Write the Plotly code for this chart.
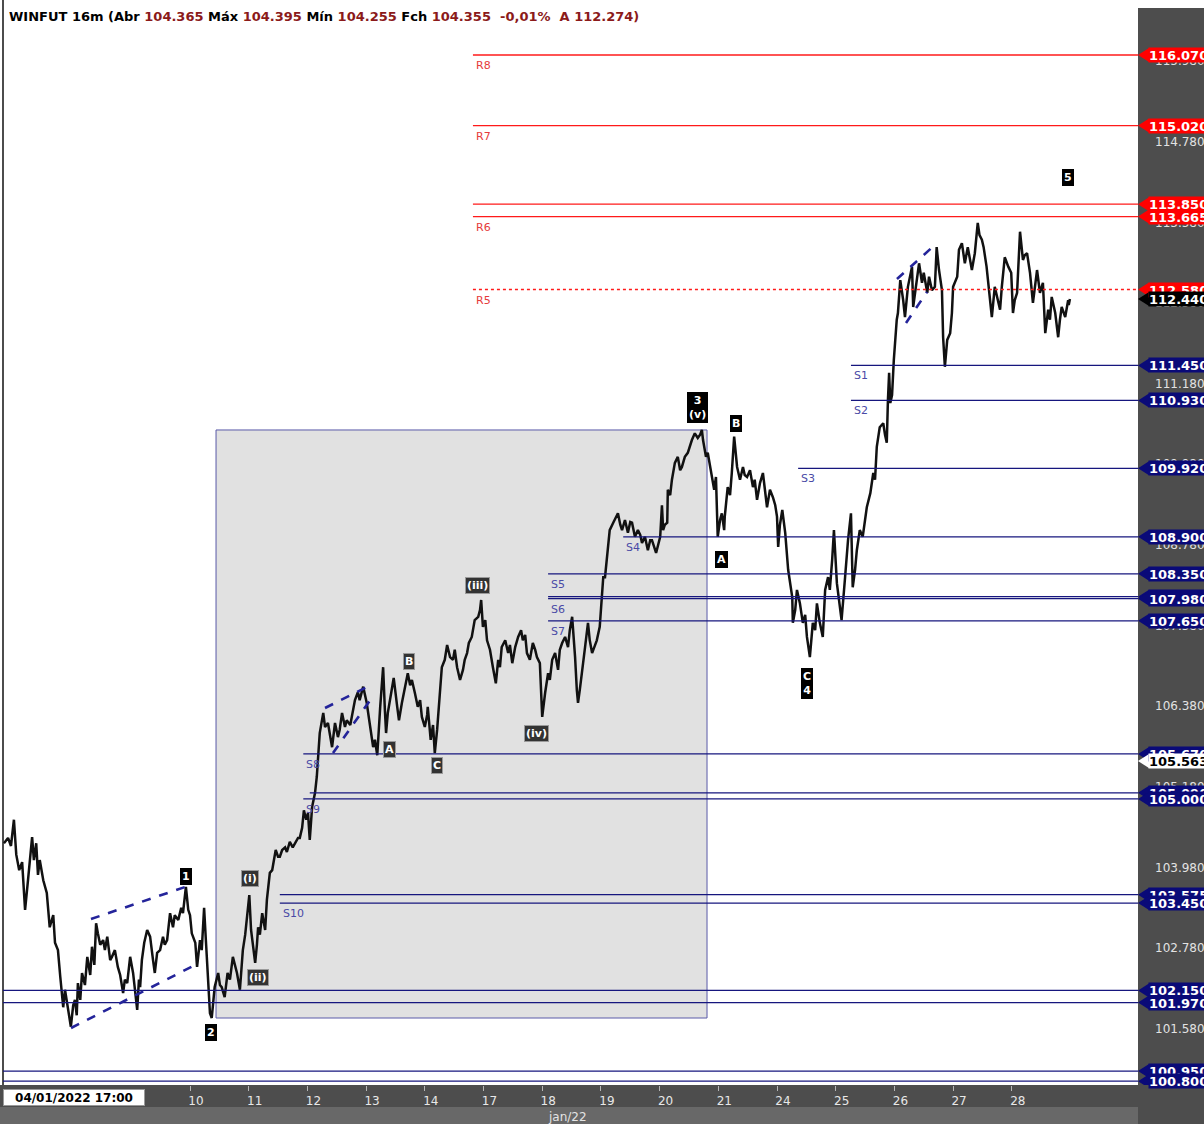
import plotly.graph_objects as go

# ---------------- data ----------------
# price path: trading-day position (0 = 05/01, 3 = 10/01 ...) and price
bar_day = [
    -0.17, -0.10, -0.05, 0.00, 0.04, 0.09, 0.14, 0.19, 0.24, 0.31,
    0.34, 0.38, 0.41, 0.44, 0.50, 0.56, 0.61, 0.67, 0.70, 0.75,
    0.79, 0.84, 0.87, 0.90, 0.94, 0.97, 1.01, 1.04, 1.07, 1.09,
    1.13, 1.16, 1.21, 1.25, 1.30, 1.33, 1.37, 1.40, 1.43, 1.47,
    1.52, 1.55, 1.59, 1.64, 1.67, 1.72, 1.77, 1.81, 1.86, 1.89,
    1.93, 1.98, 2.03, 2.06, 2.10, 2.13, 2.15, 2.18, 2.22, 2.27,
    2.32, 2.37, 2.40, 2.44, 2.49, 2.54, 2.57, 2.61, 2.66, 2.71,
    2.74, 2.80, 2.85, 2.88, 2.93, 2.97, 3.00, 3.03, 3.09, 3.12,
    3.17, 3.20, 3.24, 3.27, 3.31, 3.34, 3.37, 3.41, 3.42, 3.48,
    3.51, 3.54, 3.59, 3.64, 3.68, 3.73, 3.77, 3.80, 3.85, 3.90,
    3.94, 3.97, 4.01, 4.04, 4.07, 4.11, 4.14, 4.16, 4.19, 4.23,
    4.28, 4.31, 4.36, 4.40, 4.43, 4.46, 4.50, 4.53, 4.57, 4.62,
    4.65, 4.70, 4.75, 4.79, 4.84, 4.87, 4.91, 4.94, 4.98, 5.01,
    5.04, 5.08, 5.13, 5.16, 5.18, 5.21, 5.27, 5.30, 5.35, 5.38,
    5.42, 5.47, 5.52, 5.55, 5.59, 5.64, 5.67, 5.73, 5.76, 5.81,
    5.86, 5.89, 5.95, 5.98, 6.01, 6.07, 6.12, 6.15, 6.19, 6.24,
    6.29, 6.32, 6.34, 6.37, 6.41, 6.44, 6.47, 6.53, 6.56, 6.61,
    6.66, 6.71, 6.75, 6.78, 6.83, 6.88, 6.92, 6.95, 7.00, 7.04,
    7.05, 7.10, 7.14, 7.17, 7.21, 7.26, 7.29, 7.34, 7.38, 7.43,
    7.48, 7.51, 7.55, 7.60, 7.65, 7.68, 7.72, 7.75, 7.80, 7.85,
    7.91, 7.94, 7.96, 7.99, 8.03, 8.06, 8.11, 8.16, 8.21, 8.25,
    8.28, 8.31, 8.37, 8.42, 8.45, 8.49, 8.54, 8.59, 8.64, 8.67,
    8.71, 8.74, 8.79, 8.84, 8.88, 8.91, 8.96, 9.00, 9.03, 9.05,
    9.10, 9.13, 9.17, 9.22, 9.27, 9.30, 9.34, 9.39, 9.44, 9.47,
    9.51, 9.54, 9.56, 9.59, 9.61, 9.64, 9.68, 9.73, 9.78, 9.81,
    9.85, 9.90, 9.93, 9.98, 10.02, 10.04, 10.07, 10.10, 10.15, 10.21,
    10.26, 10.29, 10.33, 10.36, 10.41, 10.46, 10.50, 10.53, 10.58, 10.63,
    10.67, 10.70, 10.75, 10.80, 10.84, 10.87, 10.94, 10.97, 11.01, 11.04,
    11.06, 11.09, 11.13, 11.14, 11.18, 11.21, 11.26, 11.31, 11.35, 11.38,
    11.43, 11.48, 11.52, 11.55, 11.60, 11.65, 11.69, 11.72, 11.74, 11.79,
    11.82, 11.86, 11.89, 11.93, 11.96, 11.99, 12.03, 12.06, 12.10, 12.11,
    12.16, 12.20, 12.23, 12.27, 12.32, 12.37, 12.42, 12.45, 12.49, 12.54,
    12.59, 12.62, 12.66, 12.71, 12.76, 12.79, 12.83, 12.88, 12.93, 12.97,
    13.00, 13.02, 13.05, 13.09, 13.14, 13.19, 13.22, 13.26, 13.27, 13.31,
    13.34, 13.39, 13.44, 13.48, 13.51, 13.53, 13.56, 13.61, 13.65, 13.68,
    13.73, 13.78, 13.82, 13.87, 13.90, 13.94, 13.97, 14.02, 14.07, 14.10,
    14.16, 14.21, 14.26, 14.29, 14.33, 14.36, 14.41, 14.46, 14.50, 14.53,
    14.59, 14.64, 14.67, 14.70, 14.75, 14.81, 14.84, 14.87, 14.89, 14.91,
    14.93, 14.96, 14.99, 15.01, 15.04, 15.06, 15.10, 15.15, 15.18, 15.23,
    15.30, 15.32, 15.35, 15.39, 15.42, 15.47, 15.50, 15.56, 15.59, 15.64,
    15.69, 15.72, 15.76, 15.81, 15.83, 15.86, 15.90, 15.95, 15.98, 16.00,
    16.07, 16.10, 16.15, 16.20, 16.25, 16.32, 16.37, 16.42, 16.45, 16.49,
    16.52, 16.57, 16.61, 16.66, 16.71, 16.76, 16.80, 16.83, 16.88, 16.94,
    16.99, 17.02, 17.05, 17.09, 17.14, 17.19, 17.22, 17.26, 17.31, 17.36,
    17.40, 17.43, 17.48, 17.53, 17.57, 17.62, 17.65, 17.68, 17.74, 17.79,
    17.82, 17.85, 17.91, 17.96, 17.97, 17.99,
]
bar_price = [
    104.34, 104.42, 104.30, 104.69, 104.17, 103.94, 104.06, 103.35, 103.79, 104.43,
    104.09, 104.34, 103.87, 104.09, 103.79, 103.60, 103.09, 103.27, 102.86, 102.75,
    102.35, 101.90, 102.16, 102.01, 101.78, 101.61, 101.93, 102.01, 101.78, 102.26,
    102.01, 102.41, 102.23, 102.65, 102.38, 102.80, 102.53, 103.15, 103.00, 102.83,
    102.90, 102.75, 102.95, 102.60, 102.65, 102.75, 102.50, 102.38, 102.11, 102.31,
    102.26, 102.65, 102.41, 102.16, 101.86, 102.31, 102.20, 102.60, 102.86, 103.05,
    102.95, 102.60, 102.41, 102.71, 102.75, 102.95, 102.83, 102.90, 103.30, 103.09,
    103.27, 103.20, 103.38, 103.30, 103.69, 103.35, 103.27, 103.00, 102.86, 102.50,
    102.90, 102.75, 103.38, 102.90, 102.16, 101.81, 101.74, 102.08, 102.20, 102.41,
    102.23, 102.20, 102.05, 102.41, 102.31, 102.65, 102.53, 102.41, 102.16, 102.75,
    102.98, 103.20, 103.57, 103.05, 102.80, 102.56, 102.83, 103.09, 102.98, 103.30,
    103.05, 103.50, 103.90, 103.94, 104.09, 104.24, 104.14, 104.14, 104.24, 104.28,
    104.21, 104.36, 104.28, 104.34, 104.42, 104.42, 104.57, 104.83, 104.69, 104.79,
    104.39, 104.88, 105.09, 105.33, 105.68, 105.98, 106.28, 106.07, 106.13, 105.95,
    105.77, 106.13, 105.92, 106.03, 106.28, 106.07, 106.17, 106.10, 106.22, 106.47,
    106.59, 106.47, 106.67, 106.55, 106.43, 106.07, 105.77, 105.88, 105.65, 106.37,
    106.96, 106.32, 105.98, 106.28, 106.47, 106.62, 106.80, 106.37, 106.17, 106.43,
    106.67, 106.87, 106.69, 106.77, 106.58, 106.37, 106.47, 106.22, 106.07, 106.25,
    106.37, 105.88, 106.10, 105.68, 106.03, 106.58, 106.96, 107.07, 107.29, 107.11,
    107.07, 107.22, 106.96, 106.77, 106.92, 107.07, 107.17, 107.32, 107.41, 107.66,
    107.71, 107.81, 107.96, 107.56, 107.66, 107.36, 107.22, 106.96, 106.72, 107.07,
    106.96, 107.26, 107.36, 107.17, 107.29, 107.02, 107.26, 107.41, 107.51, 107.36,
    107.44, 107.17, 107.07, 107.32, 107.22, 107.11, 107.02, 106.22, 106.47, 106.58,
    106.87, 106.77, 107.07, 107.17, 106.92, 107.22, 107.32, 107.41, 107.26, 107.51,
    107.71, 107.36, 107.11, 106.62, 106.43, 106.62, 106.87, 107.26, 107.62, 107.36,
    107.17, 107.29, 107.36, 107.56, 108.06, 108.30, 108.30, 108.60, 109.00, 109.11,
    109.20, 109.25, 109.08, 109.00, 109.15, 108.96, 109.12, 109.11, 108.90, 109.00,
    108.93, 108.81, 108.90, 108.70, 108.85, 108.85, 108.66, 108.78, 108.90, 109.37,
    109.00, 109.08, 109.11, 109.60, 109.52, 109.75, 110.00, 110.09, 109.89, 109.94,
    110.09, 110.15, 110.27, 110.34, 110.44, 110.37, 110.42, 110.49, 110.34, 110.09,
    110.15, 109.97, 109.79, 109.60, 109.79, 108.90, 109.15, 109.25, 109.00, 109.20,
    109.64, 109.52, 109.85, 110.39, 109.94, 109.75, 109.94, 109.82, 109.79, 109.89,
    109.64, 109.75, 109.45, 109.70, 109.85, 109.60, 109.34, 109.60, 109.49, 109.37,
    109.20, 108.75, 109.08, 109.30, 108.96, 108.41, 108.26, 108.00, 107.62, 107.81,
    108.11, 107.91, 107.62, 107.74, 107.41, 107.29, 107.11, 107.62, 107.51, 107.91,
    107.62, 107.41, 108.11, 108.30, 108.11, 108.56, 109.00, 108.21, 107.91, 107.66,
    108.30, 108.85, 109.25, 108.15, 108.41, 108.70, 109.00, 108.90, 109.15, 109.34,
    109.55, 109.85, 109.75, 110.24, 110.53, 110.59, 110.42, 110.30, 110.94, 111.34,
    110.89, 111.01, 111.53, 111.83, 112.13, 112.23, 112.72, 112.42, 112.17, 112.62,
    112.92, 112.32, 112.50, 112.77, 112.97, 112.68, 112.83, 112.53, 112.77, 112.57,
    112.62, 113.21, 112.87, 112.57, 111.87, 111.43, 111.83, 111.93, 112.23, 112.62,
    112.77, 113.17, 113.27, 112.97, 113.21, 112.87, 113.12, 113.57, 113.39, 113.32,
    113.21, 112.92, 112.57, 112.17, 112.62, 112.42, 112.28, 112.62, 113.06, 112.92,
    112.83, 112.23, 112.42, 112.53, 113.44, 113.02, 113.09, 113.12, 112.83, 112.38,
    112.65, 112.87, 112.53, 112.68, 111.93, 112.28, 112.13, 112.47, 112.23, 111.87,
    112.13, 112.32, 112.17, 112.42, 112.35, 112.44,
]
assert len(bar_day) == len(bar_price)

day_ticks = [3, 4, 5, 6, 7, 8, 9, 10, 11, 12, 13, 14, 15, 16, 17]
day_labels = ["10", "11", "12", "13", "14", "17", "18", "19", "20", "21",
              "24", "25", "26", "27", "28"]
first_label = "04/01/2022 17:00"
month_label = "jan/22"

price_ticks = [101.58, 102.78, 103.98, 105.18, 106.38, 107.58, 108.78,
               109.98, 111.18, 112.38, 113.58, 114.78, 115.98]

# resistance levels
resist_names = ["R8", "R7", "", "R6", "R5"]
resist_prices = [116.070, 115.020, 113.850, 113.665, 112.580]
resist_dash = ["solid", "solid", "solid", "solid", "dot"]
resist_start = 7.82

# support levels (start day; None = full width)
support_names = ["S1", "S2", "S3", "S4", "S5", "", "S6", "S7", "S8", "", "S9",
                 "", "S10", "", "", "", ""]
support_prices = [111.450, 110.930, 109.920, 108.900, 108.350, 108.010, 107.980,
                  107.650, 105.670, 105.090, 105.000, 103.575, 103.450,
                  102.150, 101.970, 100.950, 100.800]
support_start = [14.26, 14.26, 13.36, 10.38, 9.10, 9.10, 9.10, 9.10, 4.93, 5.04,
                 4.93, 4.53, 4.53, None, None, None, None]

# axis price tags
tag_prices = [116.070, 115.020, 113.850, 113.665, 112.580, 112.440,
              111.450, 110.930, 109.920, 108.900, 108.350, 108.010, 107.980,
              107.650, 105.670, 105.563, 105.090, 105.000, 103.575, 103.450,
              102.150, 101.970, 100.950, 100.800]
tag_kinds = ["r", "r", "r", "r", "r", "k",
             "b", "b", "b", "b", "b", "b", "b",
             "b", "b", "w", "b", "b", "b", "b",
             "b", "b", "b", "b"]

# Elliott wave labels
wave_text = ["1", "2", "(i)", "(ii)", "(iii)", "(iv)", "B", "A", "C",
             "3<br>(v)", "B", "A", "C<br>4", "5"]
wave_day = [2.93, 3.36, 4.02, 4.16, 7.89, 8.91, 6.73, 6.39, 7.21,
            11.65, 12.30, 12.05, 13.51, 17.96]
wave_price = [103.84, 101.52, 103.81, 102.35, 108.18, 105.98, 107.05, 105.74, 105.49,
              110.83, 110.58, 108.56, 106.72, 114.24]
wave_style = ["k", "k", "d", "d", "d", "d", "d", "d", "d", "k", "k", "k", "k", "k"]

# dashed channel lines: (day0, price0, day1, price1)
channel_lines = [
    (1.313, 103.213, 2.915, 103.689),
    (0.973, 101.591, 3.153, 102.558),
    (5.300, 106.353, 6.015, 106.665),
    (5.436, 105.683, 6.083, 106.487),
    (15.044, 112.737, 15.726, 113.272),
    (15.198, 112.082, 15.555, 112.543),
]

# highlighted zone
zone_day = [3.443, 11.808]
zone_price = [101.74, 110.49]

# ---------------- layout geometry ----------------
W, H = 1204, 1124
ML, MR, MT, MB = 3, 66, 8, 39
PW = W - ML - MR
PH = H - MT - MB
X_RANGE = [-0.186, 19.150]
Y_RANGE = [100.743, 116.769]
PRICE_PER_PX = (Y_RANGE[1] - Y_RANGE[0]) / PH


def pxx(px):
    return (px - ML) / PW


def pxy(py):
    return (H - MB - py) / PH


RED = "#ff1a1a"
NAVY = "#16167e"
SUP_TXT = "#4a4aa6"
RES_TXT = "#e63b3b"

fig = go.Figure()
fig.add_trace(go.Scatter(x=bar_day, y=bar_price, mode="lines",
                         line=dict(color="#111111", width=2.5),
                         hoverinfo="skip", showlegend=False))

shapes = []
annotations = []

# background pieces
shapes.append(dict(type="rect", xref="paper", yref="paper", x0=pxx(0), x1=pxx(W),
                   y0=1, y1=pxy(0), fillcolor="white", line_width=0, layer="below"))
shapes.append(dict(type="rect", xref="paper", yref="paper", x0=pxx(0), x1=0,
                   y0=0, y1=pxy(0), fillcolor="white", line_width=0, layer="below"))
shapes.append(dict(type="rect", xref="paper", yref="paper", x0=pxx(0), x1=1,
                   y0=pxy(H), y1=pxy(1107), fillcolor="#686868", line_width=0, layer="below"))
shapes.append(dict(type="line", xref="paper", yref="paper", x0=0, x1=0,
                   y0=0, y1=pxy(0), line=dict(color="#111", width=1.5)))

# highlighted zone
shapes.append(dict(type="rect", xref="x", yref="y", x0=zone_day[0], x1=zone_day[1],
                   y0=zone_price[0], y1=zone_price[1], fillcolor="#e1e1e1",
                   line=dict(color="#5a5aa8", width=1), layer="below"))

# resistance lines
for name, p, dash in zip(resist_names, resist_prices, resist_dash):
    shapes.append(dict(type="line", xref="x", yref="y", x0=resist_start, x1=X_RANGE[1],
                       y0=p, y1=p, line=dict(color=RED, width=1.3 if dash == "solid" else 1.6,
                                             dash=dash)))
    if name:
        annotations.append(dict(x=resist_start, y=p, xref="x", yref="y", text=name,
                                showarrow=False, xanchor="left", yanchor="top",
                                xshift=1, yshift=-2,
                                font=dict(family="DejaVu Sans", size=11, color=RES_TXT)))

# support lines
for name, p, s in zip(support_names, support_prices, support_start):
    x0 = X_RANGE[0] if s is None else s
    shapes.append(dict(type="line", xref="x", yref="y", x0=x0, x1=X_RANGE[1],
                       y0=p, y1=p, line=dict(color=NAVY, width=1.2)))
    if name:
        annotations.append(dict(x=x0, y=p, xref="x", yref="y", text=name,
                                showarrow=False, xanchor="left", yanchor="top",
                                xshift=1, yshift=-2,
                                font=dict(family="DejaVu Sans", size=11, color=SUP_TXT)))

# channel lines
for d0, p0, d1, p1 in channel_lines:
    shapes.append(dict(type="line", xref="x", yref="y", x0=d0, y0=p0, x1=d1, y1=p1,
                       line=dict(color="#24249a", width=2.6, dash="dash")))

# wave labels
for t, d, p, st in zip(wave_text, wave_day, wave_price, wave_style):
    bg = "#000000" if st == "k" else "#333333"
    bc = "#000000" if st == "k" else "#9a9a9a"
    annotations.append(dict(x=d, y=p, xref="x", yref="y", text="<b>%s</b>" % t,
                            showarrow=False, bgcolor=bg, bordercolor=bc, borderwidth=1,
                            borderpad=1,
                            font=dict(family="DejaVu Sans", size=11, color="white")))

# axis price tags
tag_style = {"r": ("#ff0000", "white"), "k": ("#000000", "white"),
             "b": ("#0a0a78", "white"), "w": ("#ffffff", "black")}
half = 7 * PRICE_PER_PX
for p, k in zip(tag_prices, tag_kinds):
    bg, fg = tag_style[k]
    shapes.append(dict(type="path", xref="paper", yref="y",
                       path="M %f,%f L %f,%f L %f,%f Z" % (1.0, p, pxx(1149), p + half,
                                                          pxx(1149), p - half),
                       fillcolor=bg, line_width=0, layer="above"))
    annotations.append(dict(x=pxx(1148), y=p, xref="paper", yref="y",
                            text="<b>%.3f</b>" % p, showarrow=False,
                            xanchor="left", yanchor="middle", align="left",
                            width=60, height=14, borderpad=0, bgcolor=bg,
                            font=dict(family="DejaVu Sans", size=13, color=fg)))

# title
num = "<span style='color:#8b1a1a'>%s</span>"
sp = "\u00a0"
title = ("WINFUT 16m (Abr " + num % "104.365" + " Máx " + num % "104.395" + " Mín "
         + num % "104.255" + " Fch " + num % "104.355" + sp + sp
         + num % ("-0,01%" + sp + sp + "A 112.274)"))
annotations.append(dict(x=pxx(7), y=pxy(17), xref="paper", yref="paper", text="<b>" + title + "</b>",
                        showarrow=False, xanchor="left", yanchor="middle",
                        font=dict(family="DejaVu Sans", size=13, color="#000")))

# first x label and month label
annotations.append(dict(x=pxx(3), y=pxy(1097), xref="paper", yref="paper",
                        text="<b>" + first_label + "</b>", showarrow=False,
                        xanchor="left", yanchor="middle", bgcolor="white",
                        bordercolor="#999", borderwidth=1, borderpad=0, width=140, height=15,
                        font=dict(family="DejaVu Sans", size=12, color="#000")))
annotations.append(dict(x=pxx(567), y=pxy(1117), xref="paper", yref="paper",
                        text=month_label, showarrow=False, xanchor="center", yanchor="middle",
                        font=dict(family="DejaVu Sans", size=12, color="#e4e4e4")))

fig.update_layout(
    width=W, height=H, margin=dict(l=ML, r=MR, t=MT, b=MB, pad=0, autoexpand=False),
    paper_bgcolor="#4d4d4d", plot_bgcolor="white", showlegend=False,
    shapes=shapes, annotations=annotations,
    xaxis=dict(range=X_RANGE, tickvals=day_ticks, ticktext=day_labels,
               showgrid=False, zeroline=False, showline=False, automargin=False,
               ticks="outside", ticklen=5, tickcolor="#b5b5b5", tickwidth=1,
               ticklabelshift=6,
               tickfont=dict(family="DejaVu Sans", size=12, color="#e8e8e8"),
               fixedrange=True),
    yaxis=dict(range=Y_RANGE, side="right", tickvals=price_ticks, tickformat=".3f",
               showgrid=False, zeroline=False, showline=False, ticks="", automargin=False,
               ticklabelstandoff=16,
               tickfont=dict(family="DejaVu Sans", size=12, color="#e2e2e2"),
               fixedrange=True),
)

fig.write_html("out.html", config={"displayModeBar": False},
               post_script="document.body.style.margin='0';document.body.style.overflow='hidden';")
